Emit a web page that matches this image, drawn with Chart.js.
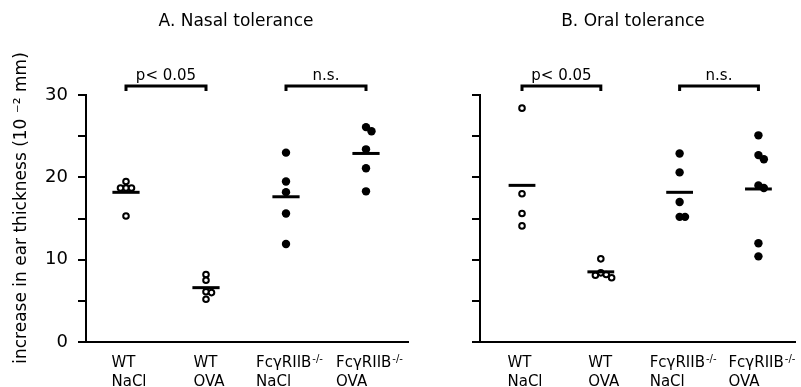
<!DOCTYPE html>
<html>
<head>
<meta charset="utf-8">
<script src="https://cdn.jsdelivr.net/npm/chart.js@4.4.1/dist/chart.umd.min.js"></script>
<style>
  body { margin: 0; background: #fff; width: 801px; height: 387px; overflow: hidden; position: relative; }
  canvas { position: absolute; top: 0; }
  #nasal { left: 0; }
  #oral { left: 400px; }
</style>
</head>
<body>
<canvas id="nasal" width="420" height="387" style="width:420px;height:387px"></canvas>
<canvas id="oral" width="401" height="387" style="width:401px;height:387px"></canvas>
<script>
// group labels (two lines, the knockout mark is drawn as superscript)
const genotypes = ["WT", "WT", "FcγRIIB", "FcγRIIB"];
const knockoutMarks = ["", "", "-/-", "-/-"];
const treatments = ["NaCl", "OVA", "NaCl", "OVA"];
const openMarker = [true, true, false, false];

const yTicks = [0, 10, 20, 30];
const yAxisTitle = "increase in ear thickness (10 ⁻² mm)";
const comparisonLabels = ["p< 0.05", "n.s."];

// A. nasal tolerance, increase in ear thickness per mouse
const nasalWtNacl = [19.5, 18.7, 18.7, 18.7, 15.3];
const nasalWtOva = [8.2, 7.5, 6.1, 6.0, 5.2];
const nasalKoNacl = [23.0, 19.5, 18.2, 15.6, 11.9];
const nasalKoOva = [26.1, 25.6, 23.4, 21.1, 18.3];

// B. oral tolerance
const oralWtNacl = [28.4, 18.0, 15.6, 14.1];
const oralWtOva = [10.1, 8.4, 8.2, 8.1, 7.8];
const oralKoNacl = [22.9, 20.6, 17.0, 15.2, 15.2];
const oralKoOva = [25.1, 22.7, 22.2, 19.0, 18.7, 12.0, 10.4];

const FONT = "'DejaVu Sans', Verdana, sans-serif";
const PX_X = 80, PX_Y = 8.23, GAP = 5.5;

// spread overlapping dots sideways
function spread(values, group) {
  const placed = [];
  return values.map(v => {
    let dx = 0;
    for (let k = 0; k < 12; k++) {
      dx = k === 0 ? 0 : (k % 2 ? 1 : -1) * Math.ceil(k / 2) * GAP;
      if (placed.every(p => Math.hypot(p.dx - dx, (p.v - v) * PX_Y) >= GAP)) break;
    }
    placed.push({ dx, v });
    return { x: group + dx / PX_X, y: v };
  });
}

function mean(values) {
  return values.reduce((a, b) => a + b, 0) / values.length;
}

const panelText = {
  id: "panelText",
  afterDraw(chart, args, opts) {
    const ctx = chart.ctx;
    const xs = chart.scales.x, ys = chart.scales.y;
    const area = chart.chartArea;
    ctx.save();
    ctx.fillStyle = "#000";
    ctx.strokeStyle = "#000";

    // title
    ctx.font = "17px " + FONT;
    ctx.textAlign = "center";
    ctx.textBaseline = "middle";
    ctx.fillText(opts.title, opts.titleX, 22);

    // y axis title
    if (opts.yTitle) {
      ctx.save();
      ctx.translate(22, 208);
      ctx.rotate(-Math.PI / 2);
      ctx.fillText(yAxisTitle, 0, 0);
      ctx.restore();
    }

    // group labels, lines left aligned inside a centred block
    ctx.textAlign = "left";
    ctx.textBaseline = "alphabetic";
    genotypes.forEach((g, i) => {
      const px = xs.getPixelForValue(i + 1);
      ctx.font = "15px " + FONT;
      const w1 = ctx.measureText(g).width;
      const w2 = ctx.measureText(treatments[i]).width;
      ctx.font = "10px " + FONT;
      const ws = ctx.measureText(knockoutMarks[i]).width;
      const left = px - Math.max(w1 + ws, w2) / 2 + 3;
      ctx.font = "15px " + FONT;
      ctx.fillText(g, left, area.bottom + 25);
      ctx.fillText(treatments[i], left, area.bottom + 44);
      ctx.font = "10px " + FONT;
      ctx.fillText(knockoutMarks[i], left + w1 + 1, area.bottom + 20);
    });

    // comparison brackets
    const by = ys.getPixelForValue(31.1);
    ctx.lineWidth = 3;
    ctx.font = "15px " + FONT;
    ctx.textAlign = "center";
    [[1, 2], [3, 4]].forEach((pair, i) => {
      const x1 = xs.getPixelForValue(pair[0]);
      const x2 = xs.getPixelForValue(pair[1]);
      ctx.beginPath();
      ctx.moveTo(x1, by + 5);
      ctx.lineTo(x1, by);
      ctx.lineTo(x2, by);
      ctx.lineTo(x2, by + 5);
      ctx.stroke();
      ctx.fillText(comparisonLabels[i], (x1 + x2) / 2, by - 6);
    });
    ctx.restore();
  }
};

function makePanel(id, cfg) {
  const datasets = [];
  cfg.groups.forEach((values, i) => {
    const g = i + 1;
    const m = mean(values);
    datasets.push({
      data: [{ x: g - 0.17, y: m }, { x: g + 0.17, y: m }],
      showLine: true,
      borderColor: "#000",
      borderWidth: 3,
      pointRadius: 0
    });
    datasets.push({
      data: spread(values, g),
      pointRadius: openMarker[i] ? 2.8 : 4.2,
      pointBorderWidth: openMarker[i] ? 2 : 0,
      pointBackgroundColor: openMarker[i] ? "#fff" : "#000",
      pointBorderColor: "#000"
    });
  });

  return new Chart(document.getElementById(id), {
    type: "scatter",
    data: { datasets },
    plugins: [panelText],
    options: {
      responsive: false,
      animation: false,
      layout: { padding: { top: 95, bottom: 45, left: 0, right: cfg.rightPad } },
      plugins: {
        legend: { display: false },
        tooltip: { enabled: false },
        panelText: { title: cfg.title, titleX: cfg.titleX, yTitle: cfg.yTitle }
      },
      scales: {
        x: {
          type: "linear",
          min: cfg.xMin,
          max: cfg.xMax,
          ticks: { display: false },
          grid: { display: false, drawTicks: false },
          border: { display: true, color: "#000", width: 2 }
        },
        y: {
          min: 0,
          max: 30,
          afterFit(scale) { scale.width = cfg.axisWidth; },
          ticks: {
            stepSize: 5,
            padding: 10,
            color: "#000",
            font: { family: FONT, size: 18 },
            callback: v => (cfg.tickLabels && yTicks.includes(v)) ? String(v) : ""
          },
          grid: { drawOnChartArea: false, drawTicks: true, tickLength: 8, color: "#000", lineWidth: 2 },
          border: { display: true, color: "#000", width: 2 }
        }
      }
    }
  });
}

makePanel("nasal", {
  title: "A. Nasal tolerance",
  titleX: 236,
  yTitle: true,
  tickLabels: true,
  groups: [nasalWtNacl, nasalWtOva, nasalKoNacl, nasalKoOva],
  xMin: 0.5, xMax: 4.525,
  axisWidth: 86,
  rightPad: 12
});

makePanel("oral", {
  title: "B. Oral tolerance",
  titleX: 233,
  yTitle: false,
  tickLabels: false,
  groups: [oralWtNacl, oralWtOva, oralKoNacl, oralKoOva],
  xMin: 0.467, xMax: 4.464,
  axisWidth: 80,
  rightPad: 0
});
</script>
</body>
</html>
